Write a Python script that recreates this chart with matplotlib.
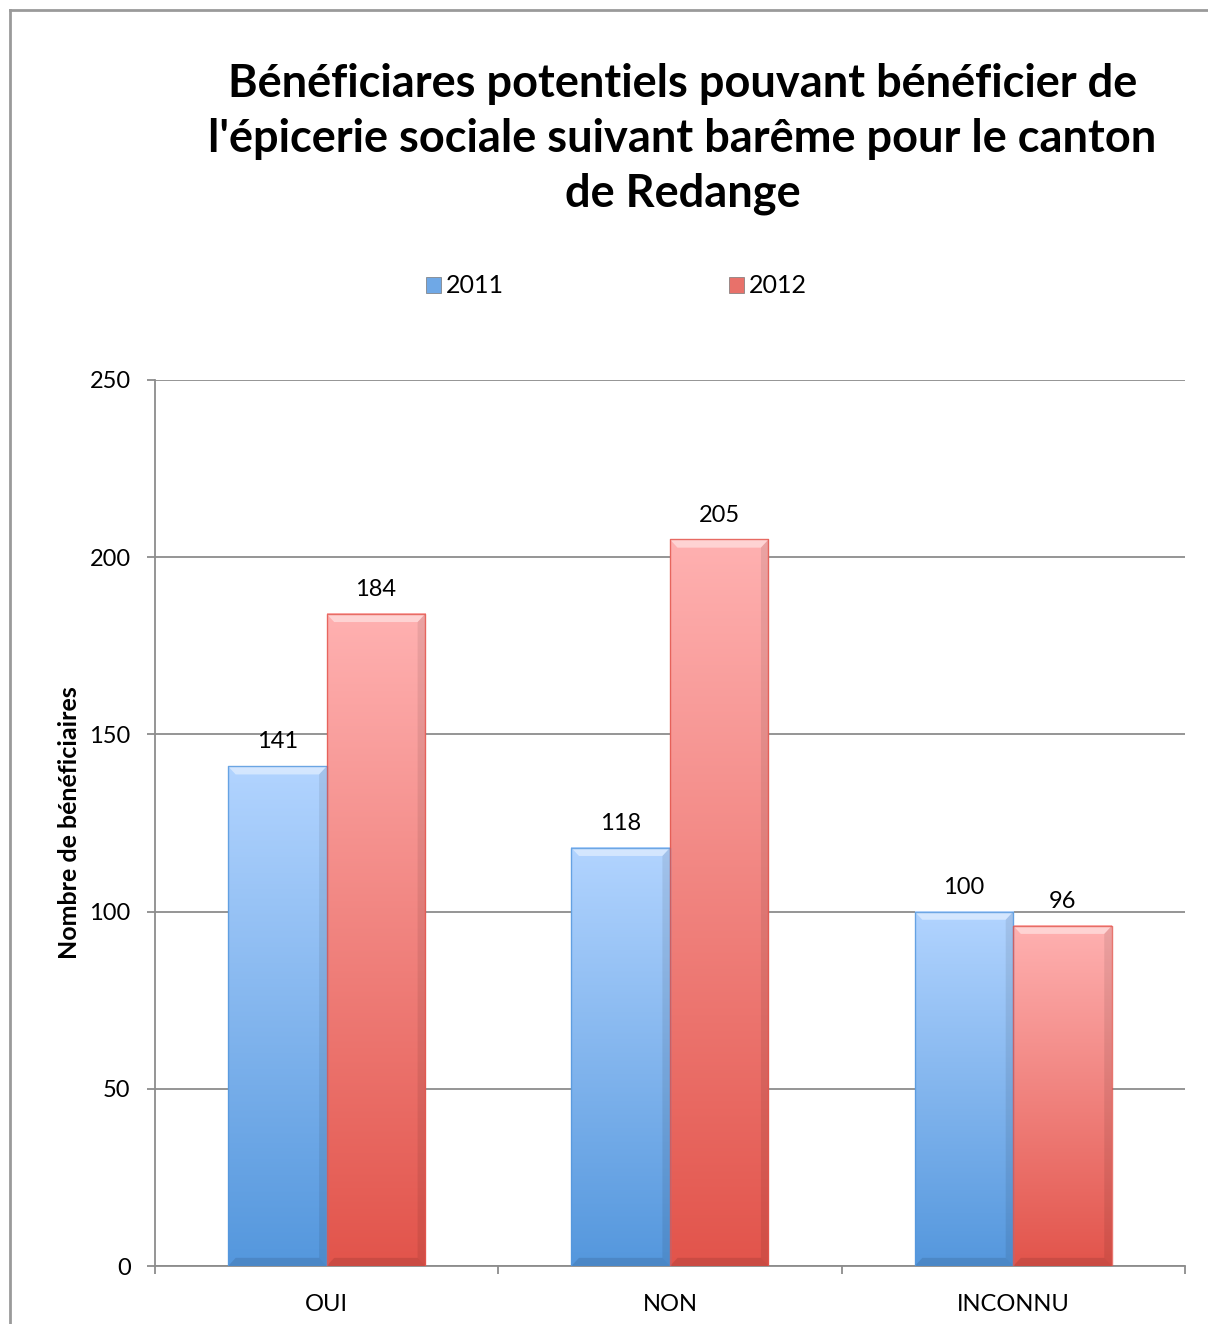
import numpy as np
import matplotlib.pyplot as plt
from matplotlib.patches import Patch, Polygon
from matplotlib.colors import LinearSegmentedColormap
from matplotlib.lines import Line2D

# data
categories = ['OUI', 'NON', 'INCONNU']
years = ['2011', '2012']
values_2011 = [141, 118, 100]
values_2012 = [184, 205, 96]

plt.rcParams['font.family'] = ['Lato', 'DejaVu Sans']

# gradient ends (top, bottom) for each series
shades = {
    '2011': ('#b2d4ff', '#5497dd'),
    '2012': ('#ffb1b1', '#e2544b'),
}
legend_colors = {'2011': '#6fa8e6', '2012': '#e8716a'}

fig = plt.figure(figsize=(12.08, 13.24), dpi=100)
ax = fig.add_axes([0.1283, 0.0438, 0.8526, 0.6692])

width = 0.287
x = np.arange(len(categories))


def gradient_bar(ax, x0, h, top, bottom):
    cmap = LinearSegmentedColormap.from_list('g', [bottom, top])
    grad = np.linspace(0, 1, 256).reshape(-1, 1)
    ax.imshow(grad, extent=[x0, x0 + width, 0, h], origin='lower',
              cmap=cmap, aspect='auto', zorder=3, interpolation='bicubic')
    # bevel: light top strip, darker bottom and right strips
    bx, by = 0.022, 2.3
    ax.add_patch(Polygon([(x0, h), (x0 + width, h), (x0 + width - bx, h - by), (x0 + bx, h - by)],
                         closed=True, facecolor='white', alpha=0.45, edgecolor='none', zorder=4))
    ax.add_patch(Polygon([(x0, 0), (x0 + width, 0), (x0 + width - bx, by), (x0 + bx, by)],
                         closed=True, facecolor='black', alpha=0.10, edgecolor='none', zorder=4))
    ax.add_patch(Polygon([(x0 + width, 0), (x0 + width, h), (x0 + width - bx, h - by), (x0 + width - bx, by)],
                         closed=True, facecolor='black', alpha=0.08, edgecolor='none', zorder=4))
    ax.plot([x0, x0, x0 + width, x0 + width], [0, h, h, 0], color=bottom,
            lw=1.0, alpha=0.8, zorder=5)


for series, vals, off in [('2011', values_2011, -width), ('2012', values_2012, 0)]:
    top, bottom = shades[series]
    for xi, v in zip(x, vals):
        gradient_bar(ax, xi + off, v, top, bottom)
        ax.annotate(str(v), (xi + off + width / 2, v), xytext=(0, 10),
                    textcoords='offset points', ha='center', va='bottom',
                    fontsize=17, zorder=6)

ax.set_xlim(-0.5, 2.5)
ax.set_ylim(0, 250)
ax.set_yticks(np.arange(0, 251, 50))
ax.yaxis.grid(True, color='#8c8c8c', lw=1.3, zorder=0)
ax.set_axisbelow(True)

ax.set_xticks(x)
ax.set_xticklabels(categories)
ax.set_xticks([-0.5, 0.5, 1.5, 2.5], minor=True)
ax.tick_params(axis='x', which='major', length=0, pad=20, labelsize=17)
ax.tick_params(axis='x', which='minor', length=6, width=1.3, color='#8c8c8c')
ax.tick_params(axis='y', length=6, width=1.3, color='#8c8c8c', labelsize=17, pad=11.5)

for s in ['top', 'right']:
    ax.spines[s].set_visible(False)
for s in ['left', 'bottom']:
    ax.spines[s].set_color('#8c8c8c')
    ax.spines[s].set_linewidth(1.3)

ax.set_ylabel('Nombre de bénéficiaires', fontsize=18, fontweight='bold', labelpad=6)

fig.text(0.565, 0.895,
         "Bénéficiares potentiels pouvant bénéficier de\n"
         "l'épicerie sociale suivant barême pour le canton\n"
         "de Redange",
         ha='center', va='center', fontsize=32.5, fontweight='bold', linespacing=1.37)

handles = [Patch(facecolor=legend_colors[y], edgecolor='#777777', lw=0.5) for y in years]
fig.legend(handles, years, loc='center', bbox_to_anchor=(0.51, 0.784), ncol=2,
           frameon=False, fontsize=18, columnspacing=9.0, handlelength=0.6,
           handleheight=0.6, handletextpad=0.2)

# outer frame
fig.add_artist(Line2D([10 / 1208, 10 / 1208], [0, 1 - 10 / 1324], color='#9a9a9a', lw=2,
                      transform=fig.transFigure))
fig.add_artist(Line2D([10 / 1208, 1], [1 - 10 / 1324, 1 - 10 / 1324], color='#9a9a9a', lw=2,
                      transform=fig.transFigure))

fig.savefig('out.png', dpi=100)
